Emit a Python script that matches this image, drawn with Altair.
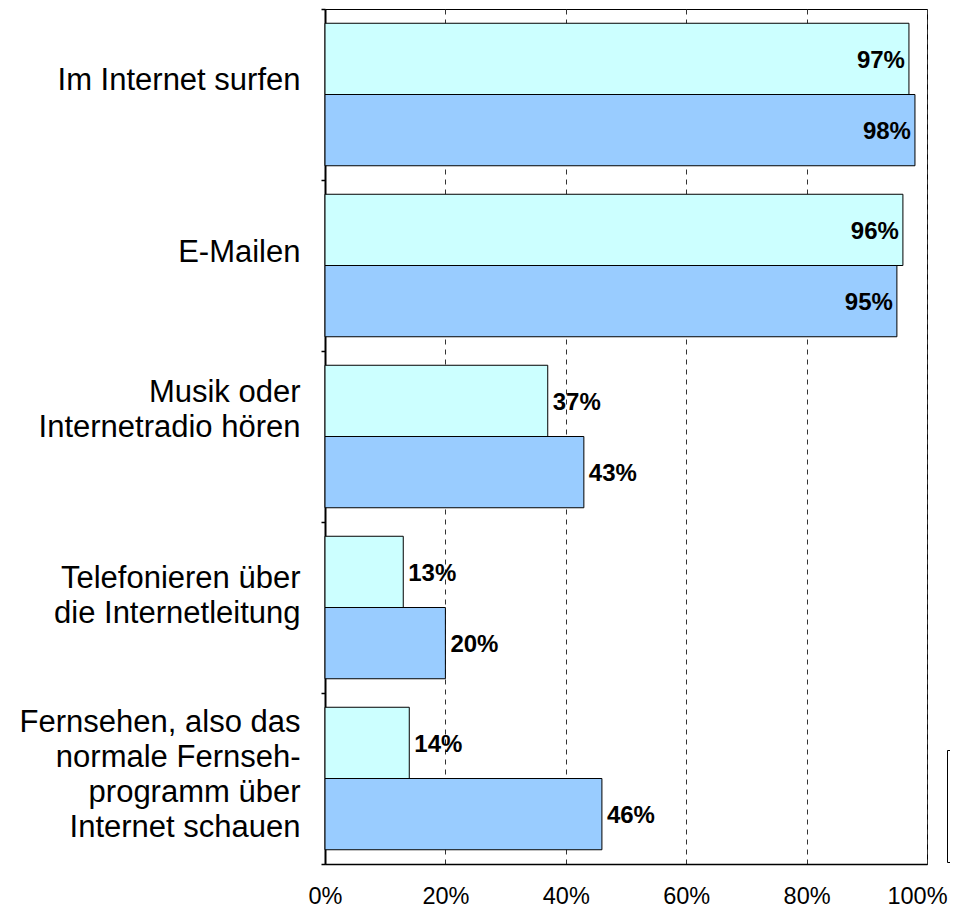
import altair as alt
import pandas as pd

categories = [
    "Im Internet surfen",
    "E-Mailen",
    "Musik oder|Internetradio hören",
    "Telefonieren über|die Internetleitung",
    "Fernsehen, also das|normale Fernseh-|programm über|Internet schauen",
]
series_names = ["Gruppe 1", "Gruppe 2"]
values_1 = [97, 96, 37, 13, 14]
values_2 = [98, 95, 43, 20, 46]
colors = ["#CCFFFF", "#99CCFF"]
x_ticks = [0, 0.2, 0.4, 0.6, 0.8, 1.0]
# vertical shift of each category label block (first line relative to band centre)
label_shift = [-14, -13, -44, -29, -56]

rows = []
for c, a, b in zip(categories, values_1, values_2):
    rows.append({"cat": c, "serie": series_names[0], "v": a / 100, "lab": f"{a}%"})
    rows.append({"cat": c, "serie": series_names[1], "v": b / 100, "lab": f"{b}%"})
df = pd.DataFrame(rows)

label_offset = {
    "condition": [
        {"test": f"datum.value === {c!r}", "value": s}
        for c, s in zip(categories, label_shift)
    ],
    "value": 0,
}

y_enc = alt.Y(
    "cat:N",
    sort=categories,
    title=None,
    scale=alt.Scale(paddingInner=0, paddingOuter=0),
    axis=alt.Axis(
        labelExpr="split(datum.label, '|')",
        labelAlign="right",
        labelBaseline="middle",
        labelFontSize=31,
        labelLineHeight=35,
        labelFont="Liberation Sans",
        labelColor="black",
        labelPadding=21,
        labelLimit=400,
        labelOffset=label_offset,
        tickBand="extent",
        tickSize=4,
        tickColor="black",
        tickWidth=1.5,
        domainColor="black",
        domainWidth=2,
        grid=False,
    ),
)
yoff_enc = alt.YOffset(
    "serie:N",
    sort=series_names,
    scale=alt.Scale(paddingOuter=0.2, paddingInner=0),
)
x_enc = alt.X(
    "v:Q",
    title=None,
    scale=alt.Scale(domain=[0, 1], nice=False),
    axis=alt.Axis(
        values=x_ticks,
        format=".0%",
        labelFontSize=23.5,
        labelFont="Liberation Sans",
        labelColor="black",
        labelPadding=20,
        labelFlush=False,
        labelOffset={"condition": {"test": "datum.value >= 1", "value": -10}, "value": 0},
        tickSize=0,
        domainColor="black",
        domainWidth=1.5,
        grid=True,
        gridColor="#333333",
        gridDash=[5, 5],
        gridWidth=1,
    ),
)

base = alt.Chart(df)

bars = base.mark_bar(stroke="black", strokeWidth=1).encode(
    y=y_enc,
    yOffset=yoff_enc,
    x=x_enc,
    color=alt.Color(
        "serie:N",
        sort=series_names,
        scale=alt.Scale(domain=series_names, range=colors),
        legend=alt.Legend(
            title=None,
            orient="none",
            legendX=622,
            legendY=741,
            fillColor="white",
            strokeColor="black",
            padding=16,
            symbolType="square",
            symbolSize=400,
            symbolStrokeColor="black",
            labelExpr="''",
            labelFontSize=20,
            rowPadding=30,
        ),
    ),
)

text_inside = base.transform_filter("datum.v >= 0.9").mark_text(
    align="right", baseline="middle", dx=-4, dy=2,
    fontSize=24, fontWeight="bold", font="Liberation Sans", color="black",
).encode(y=y_enc, yOffset=yoff_enc, x=x_enc, text="lab:N")

text_outside = base.transform_filter("datum.v < 0.9").mark_text(
    align="left", baseline="middle", dx=5, dy=2,
    fontSize=24, fontWeight="bold", font="Liberation Sans", color="black",
).encode(y=y_enc, yOffset=yoff_enc, x=x_enc, text="lab:N")

chart = (
    alt.layer(bars, text_inside, text_outside)
    .properties(
        width=602,
        height=855,
        autosize=alt.AutoSizeParams(type="none"),
        padding={"left": 317, "top": 1, "right": 23, "bottom": 44},
        background="white",
    )
    .configure_view(stroke="black", strokeWidth=1)
)

chart.save("out.html", embed_options={"renderer": "svg", "actions": False})
